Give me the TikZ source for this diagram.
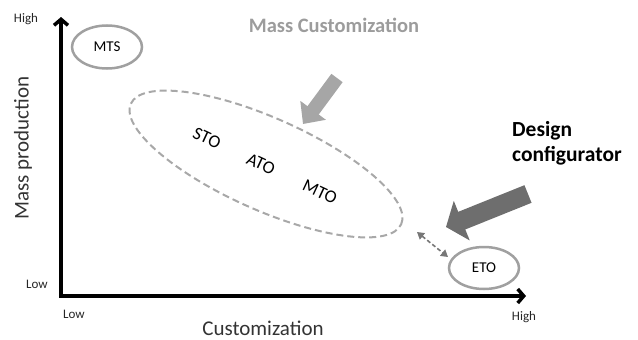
\documentclass[tikz,border=0pt]{standalone}
\usepackage{fontspec}
\setmainfont{Carlito}
\usetikzlibrary{arrows.meta,shapes.geometric}
\definecolor{ringgray}{HTML}{A0A0A0}
\definecolor{dashgray}{HTML}{A8A8A8}
\definecolor{lightarrow}{HTML}{A6A6A6}
\definecolor{darkarrow}{HTML}{6E6E6E}
\definecolor{titlegray}{HTML}{9C9C9C}
\definecolor{dblgray}{HTML}{777777}
\tikzset{
  fs/.style={font=\fontsize{#1}{#1}\selectfont},
  fsb/.style={font=\bfseries\fontsize{#1}{25}\selectfont},
  axis/.style={line width=3.5pt, line join=miter, {Straight Barb[length=6pt,width=14pt]}-{Straight Barb[length=6pt,width=14pt]}},
  tick/.style={fs=13, text=black!85, inner sep=0pt},
  ring/.style={draw=ringgray, line width=2.5pt, ellipse, inner sep=0pt, fs=15},
  group/.style={draw=dashgray, line width=2pt, dash pattern=on 7pt off 4pt},
  otype/.style={fs=18, rotate=-25, inner sep=0pt},
  fatarrow/.style={line width=#1, -{Triangle[width=2.2*#1, length=17pt]}},
}
\begin{document}
\begin{tikzpicture}[x=1pt,y=-1pt]
\useasboundingbox (0,0) rectangle (638,340);
% axes
\coordinate (ytop) at (61,17);
\coordinate (orig) at (61,296);
\coordinate (xend) at (526,296);
\draw[axis] (ytop) -- (orig) -- (xend);
% tick labels
\node[tick] (yhigh) at (26,19) {High};
\node[tick] (ylow) at (37,284) {Low};
\node[tick] (xlow) at (74,314) {Low};
\node[tick] (xhigh) at (524,317) {High};
\node[fs=21, text=black!80, anchor=base, inner sep=0pt] (xlabel) at (263,335) {Customization};
\node[fs=21, text=black!80, rotate=90, inner sep=0pt] (ylabel) at (23,148) {Mass production};
% title
\node[fsb=20.5, text=titlegray, anchor=base, inner sep=0pt] (title) at (334,32) {Mass Customization};
\node[fsb=21.5, align=left, anchor=north west, inner sep=0pt] (design) at (512,121) {Design\\configurator};
% ellipses
\node[ring, minimum width=70pt, minimum height=43pt] (mts) at (107,47) {MTS};
\node[ring, minimum width=70pt, minimum height=42pt] (eto) at (484,268) {ETO};
\coordinate (grp) at (266,164);
\draw[group, rotate around={-24:(grp)}] (grp) ellipse [x radius=148pt, y radius=46pt];
\node[otype] (sto) at (207,138) {STO};
\node[otype] (ato) at (261,164) {ATO};
\node[otype] (mto) at (320,192) {MTO};
% big arrows
\coordinate (a1s) at (337,78);
\coordinate (a1e) at (303,124);
\draw[lightarrow, fatarrow=14pt] (a1s) -- (a1e);
\coordinate (a2s) at (528,194);
\coordinate (a2e) at (446,227);
\draw[darkarrow, fatarrow=19pt] (a2s) -- (a2e);
% dashed double arrow
\coordinate (d1) at (417,232);
\coordinate (d2) at (448,257);
\draw[dblgray, line width=1.6pt, dash pattern=on 4pt off 2.5pt, {Triangle[length=7pt,width=8pt]}-{Triangle[length=7pt,width=8pt]}] (d1) -- (d2);
\end{tikzpicture}
\end{document}
